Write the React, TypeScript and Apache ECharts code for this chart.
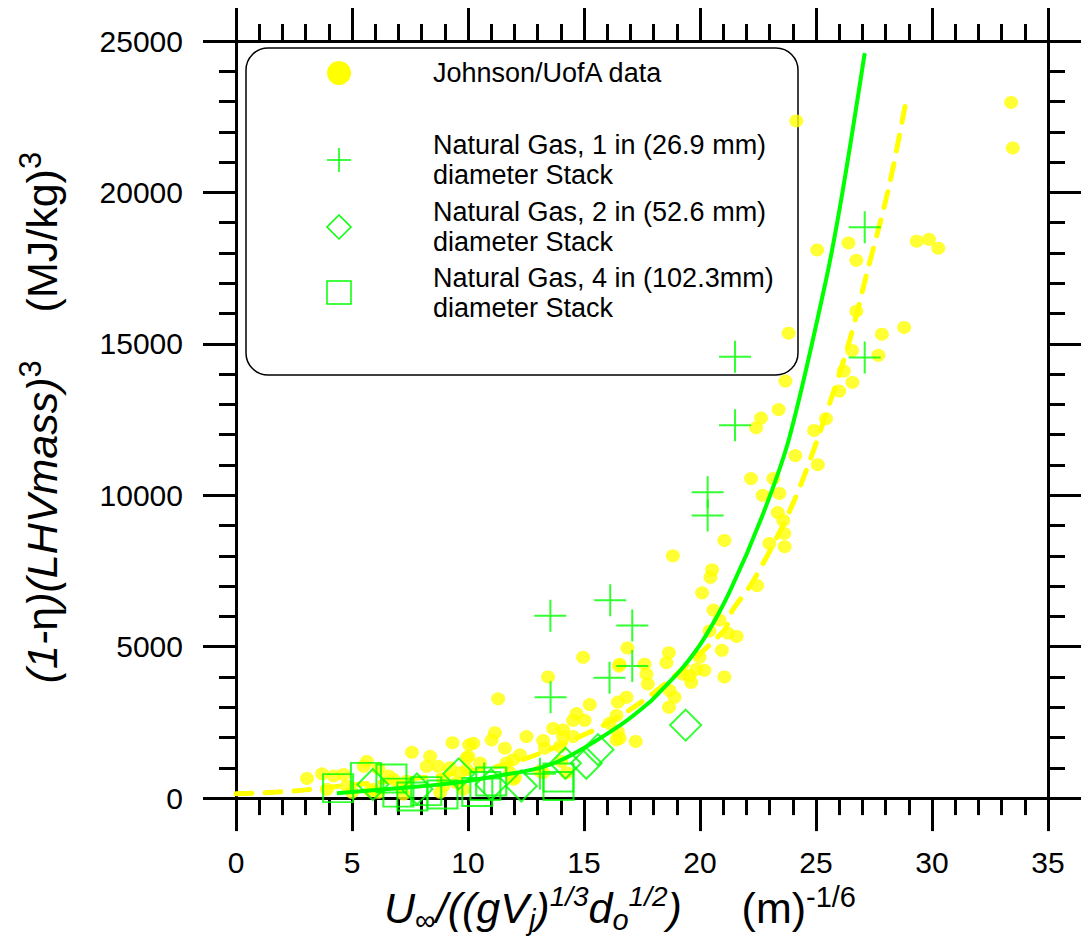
import React, { useEffect, useRef } from "react";
import * as echarts from "echarts";

const FONT = '"Liberation Sans", Arial, Helvetica, sans-serif';
const YELLOW = "#ffff00";
const GREEN = "#00ff00";

const xRange = [0, 35];
const yRange = [0, 25000];
const xStep = 5;
const yStep = 5000;

// Johnson / UofA data [x, y]
const johnsonData: [number, number][] = [
  [33.41, 22970], [33.48, 21470], [29.34, 18390], [29.87, 18450], [30.27, 18160],
  [26.74, 17760], [26.4, 18330], [26.74, 16080], [28.8, 15540], [27.84, 15320],
  [26.55, 14780], [27.69, 14620], [26.2, 14100], [26.57, 13730], [26.0, 13440],
  [24.15, 22360], [25.05, 18100], [23.82, 15350], [23.68, 13770], [23.39, 12830],
  [22.63, 12550], [22.42, 12230], [25.43, 12530], [24.92, 12140], [24.11, 11310],
  [25.08, 11010], [22.2, 10550], [23.16, 10550], [23.42, 10060], [22.7, 10000],
  [23.35, 9430], [23.59, 9170], [23.63, 8740], [22.99, 8410], [23.65, 8300],
  [21.05, 8510], [18.83, 8000], [20.52, 7540], [20.45, 7290], [22.46, 7020],
  [20.09, 6780], [20.58, 6210], [20.84, 5880], [20.41, 5520], [21.2, 5450],
  [21.58, 5340], [20.94, 4880], [19.98, 4650], [18.66, 4800], [16.87, 4960],
  [14.96, 4650], [16.54, 4420], [17.61, 4420], [18.55, 4470], [19.84, 4250],
  [20.19, 4220], [21.05, 4000], [17.69, 4090], [17.75, 3770], [16.51, 4360],
  [19.55, 4040], [19.62, 3820], [19.26, 4090], [18.69, 3550], [18.9, 3330],
  [18.66, 3000], [16.83, 3330], [16.46, 3170], [16.4, 2730], [16.54, 1980],
  [17.23, 1870], [16.1, 2470],
  [13.45, 4000], [11.3, 3280], [15.25, 3090], [14.68, 2790], [14.53, 2570],
  [15.03, 2570], [13.67, 2300], [11.16, 2160], [11.02, 1920], [12.52, 2030],
  [13.24, 1900], [13.31, 1650], [14.1, 2030], [13.96, 1700], [14.53, 2030],
  [10.23, 1810], [10.01, 1380], [11.59, 1650], [12.24, 1430], [11.95, 1270],
  [10.52, 1160], [13.1, 890], [14.03, 1210], [14.25, 840], [11.66, 1160],
  [11.81, 840], [11.95, 620], [16.46, 2190], [16.4, 1920], [9.66, 840],
  [13.24, 840], [12.02, 670], [10.05, 1760], [14.1, 2250], [9.94, 944],
  [3.06, 650], [3.71, 800], [4.21, 730], [4.64, 780], [3.92, 290],
  [4.78, 400], [5.0, 190], [5.64, 1210], [5.5, 1050], [6.14, 970],
  [6.57, 730], [6.79, 620], [5.93, 290], [6.14, 190], [7.08, 400],
  [7.36, 560], [7.58, 1510], [8.37, 1380], [8.22, 1050], [8.72, 1050],
  [9.23, 1000], [9.33, 1830], [9.94, 1320], [8.94, 620], [9.51, 510],
  [9.8, 290], [8.8, 190], [7.22, 130], [5.78, 240], [8.94, 400],
];

// Natural Gas, 1 in stack (crosses)
const stack1in: [number, number][] = [
  [13.55, 6020], [13.56, 3330], [16.13, 6530], [16.1, 3970], [17.08, 5700],
  [17.08, 4360], [20.33, 10100], [20.33, 9330], [21.51, 14570], [21.51, 12310],
  [27.1, 18850], [27.1, 14550], [13.1, 800], [10.7, 650],
];

// Natural Gas, 2 in stack (diamonds)
const stack2in: [number, number][] = [
  [5.9, 450], [7.8, 300], [9.6, 800], [11.0, 450], [12.3, 400],
  [14.2, 1150], [15.1, 1150], [15.6, 1600], [19.38, 2410],
];

// Natural Gas, 4 in stack (squares)
const stack4in: [number, number][] = [
  [4.4, 330], [5.6, 700], [6.7, 650], [7.0, 180], [7.6, 50],
  [8.2, 230], [8.9, 120], [10.4, 200], [10.75, 400], [11.0, 550],
  [13.9, 680], [13.9, 400],
];

// fitted curves
const fitSolid: [number, number][] = [
  [4.35, 163], [6.4, 290], [8.4, 420], [9.7, 530], [11.2, 726], [13.1, 1000],
  [14.4, 1400], [16.55, 2400], [17.8, 3150], [18.26, 3500], [19.26, 4310],
  [20.2, 5300], [21.27, 6800], [22.7, 9350], [23.85, 11900], [25.43, 17100],
  [26.14, 20000], [27.1, 24600],
];
const fitDashed: [number, number][] = [
  [0, 140], [1.8, 200], [3.1, 280], [11.3, 1050], [15.3, 2200], [17.7, 3300],
  [21.0, 5500], [21.4, 6200], [22.2, 7050], [23.56, 8980], [24.42, 10500],
  [25.43, 12670], [26.43, 15060], [27.2, 17350], [28.15, 20200], [28.9, 23100],
];

const legendLabels = [
  "Johnson/UofA data",
  "Natural Gas, 1 in (26.9 mm)\ndiameter Stack",
  "Natural Gas, 2 in (52.6 mm)\ndiameter Stack",
  "Natural Gas, 4 in (102.3mm)\ndiameter Stack",
];

const xName =
  "{i|U}{sub|∞}{i|/((gV}{isub|j}{i|)}{isup|1/3}{i|d}{isub|o}{isup|1/2}{i|)}{r|     (m)}{rsup|-1/6}";
const yName =
  "{yi|(1-}{yg|η}{yi|)(LHVmass)}{ysup|3}{yr|    (MJ/kg)}{ysup|3}";

const nameRich = {
  i: { fontSize: 43, fontStyle: "italic", fontFamily: FONT, color: "#000", lineHeight: 52 },
  r: { fontSize: 43, fontFamily: FONT, color: "#000", lineHeight: 52 },
  sub: { fontSize: 29, fontFamily: FONT, color: "#000", lineHeight: 12, verticalAlign: "bottom" },
  isub: { fontSize: 29, fontStyle: "italic", fontFamily: FONT, color: "#000", lineHeight: 12, verticalAlign: "bottom" },
  isup: { fontSize: 28, fontStyle: "italic", fontFamily: FONT, color: "#000", lineHeight: 40, verticalAlign: "top" },
  rsup: { fontSize: 29, fontFamily: FONT, color: "#000", lineHeight: 40, verticalAlign: "top" },
  yi: { fontSize: 43, fontStyle: "italic", fontFamily: FONT, color: "#000", lineHeight: 54 },
  yg: { fontSize: 43, fontFamily: FONT, color: "#000", lineHeight: 54 },
  yr: { fontSize: 43, fontFamily: FONT, color: "#000", lineHeight: 54 },
  ysup: { fontSize: 31, fontFamily: FONT, color: "#000", lineHeight: 40, verticalAlign: "top" },
};

const PLUS = "path://M-1,-16H1V16H-1Z M-16,-1H16V1H-16Z";

function axisBase(min: number, max: number, step: number, pos: string, labels: boolean, margin = 8) {
  return {
    type: "value",
    min,
    max,
    interval: step,
    position: pos,
    axisLine: { show: true, onZero: false, lineStyle: { color: "#000", width: 3 } },
    axisTick: { show: true, inside: false, length: 33, lineStyle: { color: "#000", width: 3 } },
    minorTick: { show: true, splitNumber: 5, length: 17, lineStyle: { color: "#000", width: 3 } },
    splitLine: { show: false },
    minorSplitLine: { show: false },
    axisLabel: {
      show: labels,
      fontSize: 30,
      color: "#000",
      fontFamily: FONT,
      margin,
      formatter: (v: number) => String(v),
    },
  };
}

export default function App() {
  const ref = useRef<HTMLDivElement>(null);
  useEffect(() => {
    const chart = echarts.init(ref.current!, null, { renderer: "svg" });
    const legendX = 339;
    const legendTextX = 433;
    const legendY = [73, 160, 227, 293];
    const option: any = {
      animation: false,
      backgroundColor: "#fff",
      grid: { left: 236, right: 35, top: 41, bottom: 130, containLabel: false },
      xAxis: [
        {
          ...axisBase(xRange[0], xRange[1], xStep, "bottom", true, 49),
          name: xName,
          nameLocation: "middle",
          nameGap: 73,
          nameTextStyle: { rich: nameRich, padding: [0, 44, 0, 0] },
        },
        axisBase(xRange[0], xRange[1], xStep, "top", false),
      ],
      yAxis: [
        {
          ...axisBase(yRange[0], yRange[1], yStep, "left", true, 53),
          name: yName,
          nameLocation: "middle",
          nameRotate: 90,
          nameGap: 167,
          nameTextStyle: { rich: nameRich, padding: [0, 0, 0, 4] },
        },
        axisBase(yRange[0], yRange[1], yStep, "right", false),
      ],
      graphic: [
        {
          type: "rect",
          z: -10,
          shape: { x: 246, y: 48, width: 552, height: 327, r: 22 },
          style: { fill: "#fff", stroke: "#000", lineWidth: 1.5 },
        },
        { type: "circle", shape: { cx: legendX, cy: legendY[0], r: 12 }, style: { fill: YELLOW } },
        { type: "line", shape: { x1: legendX - 12, y1: legendY[1], x2: legendX + 12, y2: legendY[1] }, style: { stroke: GREEN, lineWidth: 1.5 } },
        { type: "line", shape: { x1: legendX, y1: legendY[1] - 12, x2: legendX, y2: legendY[1] + 12 }, style: { stroke: GREEN, lineWidth: 1.5 } },
        {
          type: "polygon",
          shape: { points: [[legendX, legendY[2] - 12], [legendX + 12, legendY[2]], [legendX, legendY[2] + 12], [legendX - 12, legendY[2]]] },
          style: { fill: "none", stroke: GREEN, lineWidth: 1.5 },
        },
        {
          type: "rect",
          shape: { x: legendX - 12, y: legendY[3] - 12, width: 24, height: 23 },
          style: { fill: "none", stroke: GREEN, lineWidth: 1.5 },
        },
        ...legendLabels.map((t, k) => ({
          type: "text",
          x: legendTextX,
          y: legendY[k],
          style: {
            text: t,
            fill: "#000",
            font: `27px ${FONT}`,
            lineHeight: 30,
            verticalAlign: "middle",
            align: "left",
          },
        })),
      ],
      series: [
        {
          name: "fit dashed",
          type: "line",
          data: fitDashed,
          showSymbol: false,
          smooth: 0.3,
          z: 3,
          lineStyle: { color: YELLOW, width: 5, type: [16, 13], cap: "round" },
        },
        {
          name: legendLabels[0],
          type: "scatter",
          data: johnsonData,
          symbol: "circle",
          symbolSize: [14, 13],
          z: 2,
          itemStyle: { color: YELLOW },
        },
        {
          name: "4 in",
          type: "scatter",
          data: stack4in,
          symbol: "rect",
          symbolSize: [30, 28],
          z: 4,
          itemStyle: { color: "rgba(0,0,0,0)", borderColor: GREEN, borderWidth: 2 },
        },
        {
          name: "2 in",
          type: "scatter",
          data: stack2in,
          symbol: "diamond",
          symbolSize: 31,
          z: 4,
          itemStyle: { color: "rgba(0,0,0,0)", borderColor: GREEN, borderWidth: 2 },
        },
        {
          name: "1 in",
          type: "scatter",
          data: stack1in,
          symbol: PLUS,
          symbolSize: 32,
          z: 4,
          itemStyle: { color: GREEN },
        },
        {
          name: "fit solid",
          type: "line",
          data: fitSolid,
          showSymbol: false,
          smooth: 0.3,
          z: 5,
          lineStyle: { color: GREEN, width: 4 },
        },
      ],
    };
    chart.setOption(option);
    return () => chart.dispose();
  }, []);
  return (
    <div
      ref={ref}
      style={{ position: "absolute", left: 0, top: 0, width: 1083, height: 939, background: "#fff" }}
    />
  );
}
